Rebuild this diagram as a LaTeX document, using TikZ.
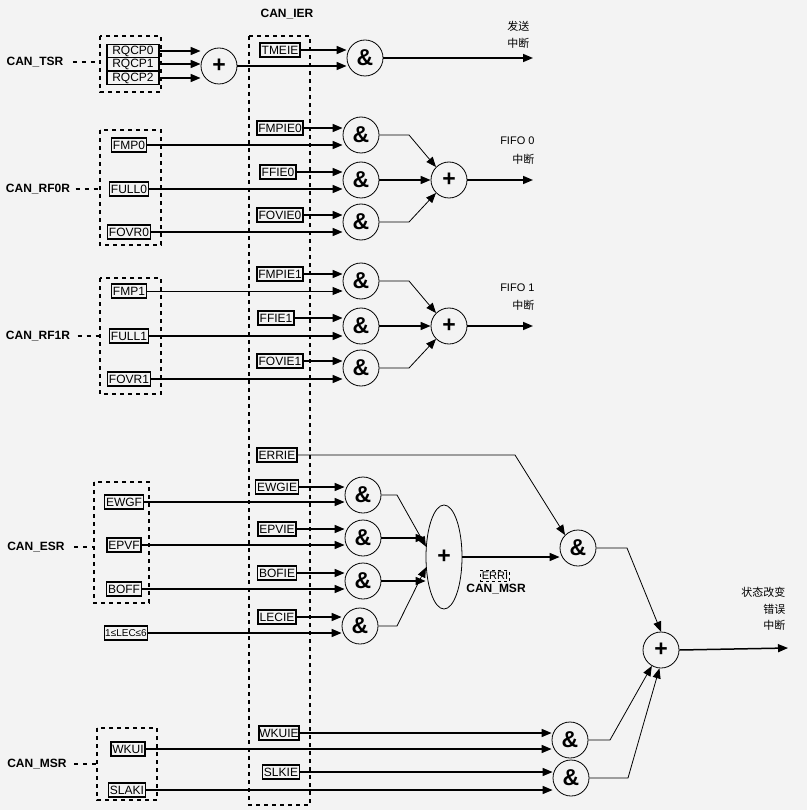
\documentclass[tikz,border=0pt]{standalone}
\usepackage{fontspec}
\setmainfont{Liberation Sans}
\newfontfamily\cjk{Noto Sans CJK SC}
\usetikzlibrary{arrows.meta,shapes.geometric}
\begin{document}
\begin{tikzpicture}[x=1pt,y=-1pt,
  reg/.style={draw,line width=1.6pt,inner sep=1.5pt,minimum height=14pt,font=\fontsize{12}{12}\selectfont},
  gate/.style={circle,draw,line width=0.8pt,minimum size=36pt,inner sep=0pt,font=\bfseries\fontsize{23}{23}\selectfont},
  lbl/.style={font=\bfseries\fontsize{12}{12}\selectfont},
  grp/.style={draw,line width=1.4pt,dash pattern=on 4pt off 4pt},
  sig/.style={line width=1.5pt,-{Triangle[length=10pt,width=8pt]}},
  thin/.style={line width=0.8pt,-{Triangle[length=10pt,width=8pt]}},
  lead/.style={line width=1.2pt,dash pattern=on 4pt off 5pt},
  cn/.style={font=\cjk\fontsize{11}{12}\selectfont,anchor=east}]
\fill[fill={rgb,255:red,243;green,243;blue,243}] (0,0) rectangle (807,810);
\useasboundingbox (0,0) rectangle (807,810);
% group boxes
\draw[grp] (100,36) rectangle (161,92);
\draw[grp] (100,130) rectangle (161,245);
\draw[grp] (100,278) rectangle (161,394);
\draw[grp] (94,482) rectangle (149,603);
\draw[grp] (97,728) rectangle (157,800);
\draw[grp] (249,36) rectangle (310,805);
\node[lbl] (ier) at (287,14) {CAN\_IER};
% labels left
\node[lbl] (tsr) at (35,62) {CAN\_TSR};
\node[lbl] (rf0) at (38,189) {CAN\_RF0R};
\node[lbl] (rf1) at (38,336) {CAN\_RF1R};
\node[lbl] (esr) at (36,547) {CAN\_ESR};
\node[lbl] (msr) at (37,764) {CAN\_MSR};
\coordinate (tsrE) at (100,62); \coordinate (rf0E) at (100,189);
\coordinate (rf1E) at (100,336); \coordinate (esrE) at (94,547);
\coordinate (msrE) at (97,764);
\draw[lead] ([xshift=6pt]tsr.east) -- (tsrE);
\draw[lead] ([xshift=2pt]rf0.east) -- (rf0E);
\draw[lead] ([xshift=4pt]rf1.east) -- (rf1E);
\draw[lead] ([xshift=6pt]esr.east) -- (esrE);
\draw[lead] ([xshift=4pt]msr.east) -- (msrE);
% TSR
\node[reg,minimum width=52pt,minimum height=13pt,inner sep=0.5pt] (q0) at (133,51) {RQCP0};
\node[reg,minimum width=52pt,minimum height=13pt,inner sep=0.5pt] (q1) at (133,64) {RQCP1};
\node[reg,minimum width=52pt,minimum height=13pt,inner sep=0.5pt] (q2) at (133,78) {RQCP2};
\node[gate] (p0) at (219,66) {+};
\draw[sig] (q0.east) -- (q0.east -| p0.west);
\draw[sig] (q1.east) -- (q1.east -| p0.west);
\draw[sig] (q2.east) -- (q2.east -| p0.west);
\node[reg] (tmeie) at (280,50) {TMEIE};
\node[gate] (a0) at (365,58) {\&};
\draw[sig] (tmeie.east) -- (tmeie.east -| a0.west);
\draw[sig] (p0.east) -- (p0.east -| a0.west);
\coordinate (o0) at (533,58);
\draw[sig] (a0.east) -- (o0);
\node[cn] (t0a) at (533,26) {发送};
\node[cn] (t0b) at (533,43) {中断};
% RF0
\node[reg] (fmp0) at (129,145) {FMP0};
\node[reg] (full0) at (129,189) {FULL0};
\node[reg] (fovr0) at (129,232) {FOVR0};
\node[reg] (fmpie0) at (280,128) {FMPIE0};
\node[reg] (ffie0) at (278,172) {FFIE0};
\node[reg] (fovie0) at (280,215) {FOVIE0};
\node[gate] (b1) at (361,135) {\&};
\node[gate] (b2) at (361,180) {\&};
\node[gate] (b3) at (361,222) {\&};
\foreach \i/\g in {fmp0/b1,full0/b2,fovr0/b3,fmpie0/b1,ffie0/b2,fovie0/b3}
  \draw[sig] (\i.east) -- (\i.east -| \g.west);
\node[gate] (p1) at (449,180) {+};
\draw[thin] (b1.east) -- (409,135) -- (p1.north west);
\draw[sig] (b2.east) -- (p1.west);
\draw[thin] (b3.east) -- (409,222) -- (p1.south west);
\coordinate (o1) at (533,180);
\draw[sig] (p1.east) -- (o1);
\node[font=\fontsize{11}{12}\selectfont,anchor=east] (f0) at (538,141) {FIFO 0};
\node[cn] (f0b) at (538,159) {中断};
% RF1
\node[reg] (fmp1) at (129,291) {FMP1};
\node[reg] (full1) at (129,336) {FULL1};
\node[reg] (fovr1) at (129,379) {FOVR1};
\node[reg] (fmpie1) at (280,274) {FMPIE1};
\node[reg] (ffie1) at (276,318) {FFIE1};
\node[reg] (fovie1) at (280,361) {FOVIE1};
\node[gate] (c1) at (361,281) {\&};
\node[gate] (c2) at (361,326) {\&};
\node[gate] (c3) at (361,368) {\&};
\draw[thin] (fmp1.east) -- (fmp1.east -| c1.west);
\foreach \i/\g in {full1/c2,fovr1/c3,fmpie1/c1,ffie1/c2,fovie1/c3}
  \draw[sig] (\i.east) -- (\i.east -| \g.west);
\node[gate] (p2) at (449,326) {+};
\draw[thin] (c1.east) -- (409,281) -- (p2.north west);
\draw[sig] (c2.east) -- (p2.west);
\draw[thin] (c3.east) -- (409,368) -- (p2.south west);
\coordinate (o2) at (533,326);
\draw[sig] (p2.east) -- (o2);
\node[font=\fontsize{11}{12}\selectfont,anchor=east] (f1) at (538,288) {FIFO 1};
\node[cn] (f1b) at (538,305) {中断};
% ESR
\node[reg] (ewgf) at (124,502) {EWGF};
\node[reg] (epvf) at (124,545) {EPVF};
\node[reg] (boff) at (124,589) {BOFF};
\node[reg,font=\fontsize{10}{10}\selectfont,inner sep=0.8pt] (lec) at (126,633) {1≤LEC≤6};
\node[reg] (errie) at (277,455) {ERRIE};
\node[reg] (ewgie) at (277,487) {EWGIE};
\node[reg] (epvie) at (277,529) {EPVIE};
\node[reg] (bofie) at (277,573) {BOFIE};
\node[reg] (lecie) at (277,617) {LECIE};
\node[gate] (d1) at (363,495) {\&};
\node[gate] (d2) at (363,538) {\&};
\node[gate] (d3) at (363,581) {\&};
\node[gate] (d4) at (360,626) {\&};
\foreach \i/\g in {ewgf/d1,epvf/d2,boff/d3,lec/d4,ewgie/d1,epvie/d2,bofie/d3,lecie/d4}
  \draw[sig] (\i.east) -- (\i.east -| \g.west);
\node[draw,ellipse,line width=0.8pt,minimum width=36pt,minimum height=104pt,inner sep=0pt,font=\bfseries\fontsize{23}{23}\selectfont] (pe) at (444,557) {+};
\draw[thin] (d1.east) -- (397,495) -- (pe.150);
\draw[sig] (d2.east) -- (d2.east -| pe.west);
\draw[sig] (d3.east) -- (d3.east -| pe.west);
\draw[thin] (d4.east) -- (397,626) -- (pe.210);
\node[gate] (e1) at (578,548) {\&};
\draw[sig] (pe.east) -- (pe.east -| e1.west);
\draw[thin] (errie.east) -- (515,455) -- (e1.north west);
\node[draw,line width=1.2pt,dash pattern=on 3pt off 3pt,inner sep=1.5pt,font=\fontsize{11}{11}\selectfont] (erri) at (495,576) {ERRI};
\node[lbl] (msr2) at (496,589) {CAN\_MSR};
\node[gate] (pf) at (661,650) {+};
\draw[thin] (e1.east) -- (627,548) -- (pf.north);
\coordinate (o3) at (788,648);
\draw[sig] (pf.east) -- (o3);
\node[cn] (s1) at (789,592) {状态改变};
\node[cn] (s2) at (789,609) {错误};
\node[cn] (s3) at (789,625) {中断};
% MSR
\node[reg] (wkui) at (128,749) {WKUI};
\node[reg] (slaki) at (127,790) {SLAKI};
\node[reg,inner sep=0.5pt] (wkuie) at (279,733) {WKUIE};
\node[reg] (slkie) at (281,772) {SLKIE};
\node[gate] (g1) at (570,740) {\&};
\node[gate] (g2) at (571,778) {\&};
\foreach \i/\g in {wkui/g1,slaki/g2,wkuie/g1,slkie/g2}
  \draw[sig] (\i.east) -- (\i.east -| \g.west);
\draw[thin] (g1.east) -- (610,740) -- (pf.240);
\draw[thin] (g2.east) -- (628,778) -- (pf.265);
\end{tikzpicture}
\end{document}
